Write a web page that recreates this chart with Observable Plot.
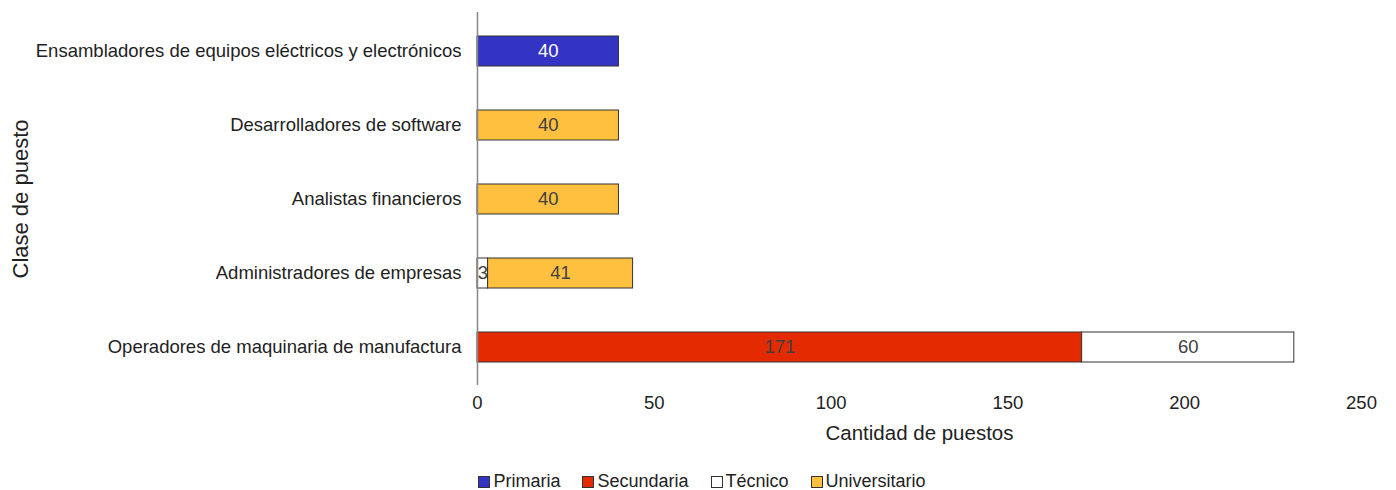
<!DOCTYPE html>
<html>
<head>
<meta charset="utf-8">
<script src="https://cdn.jsdelivr.net/npm/d3@7"></script>
<script src="https://cdn.jsdelivr.net/npm/@observablehq/plot@0.6"></script>
<style>
  html, body { margin: 0; padding: 0; background: #fff; }
  body { width: 1396px; height: 490px; overflow: hidden; font-family: "Liberation Sans", Arial, sans-serif; }
  #legend { display: flex; justify-content: center; align-items: center; gap: 22px; height: 25px; padding-top: 7px; font-size: 18px; color: #222; padding-left: 8px; }
  #legend .item { display: flex; align-items: center; gap: 3px; }
  #legend .sw { width: 10px; height: 10px; border: 1px solid #333; display: inline-block; }
</style>
</head>
<body>
<div id="chart"></div>
<div id="legend"></div>
<script>
const categories = [
  "Ensambladores de equipos eléctricos y electrónicos",
  "Desarrolladores de software",
  "Analistas financieros",
  "Administradores de empresas",
  "Operadores de maquinaria de manufactura"
];
const levels = ["Primaria", "Secundaria", "Técnico", "Universitario"];
const levelColors = ["#3333c4", "#e32a00", "#ffffff", "#ffc040"];
const primaria      = [40, 0, 0, 0, 0];
const secundaria    = [0, 0, 0, 0, 171];
const tecnico       = [0, 0, 0, 3, 60];
const universitario = [0, 40, 40, 41, 0];
const xTicks = [0, 50, 100, 150, 200, 250];
const xTitle = "Cantidad de puestos";
const yTitle = "Clase de puesto";

const seriesValues = [primaria, secundaria, tecnico, universitario];
const data = [];
categories.forEach((c, i) => {
  levels.forEach((l, j) => {
    const v = seriesValues[j][i];
    if (v > 0) data.push({cat: c, level: l, value: v});
  });
});

const stackOpts = {x: "value", y: "cat", z: "level", order: levels};

const chart = Plot.plot({
  width: 1396,
  height: 462,
  marginLeft: 477,
  marginRight: 35,
  marginTop: 12,
  marginBottom: 77,
  style: {fontFamily: "'Liberation Sans', Arial, sans-serif", fontSize: "18.5px", color: "#222", background: "#fff"},
  x: {domain: [0, 250], ticks: xTicks, tickSize: 0, tickPadding: 10, label: null},
  y: {domain: categories, paddingInner: 0.596, paddingOuter: 0.31, tickSize: 0, tickPadding: 16, label: null},
  color: {domain: levels, range: levelColors},
  marks: [
    Plot.barX(data, Plot.stackX({...stackOpts, fill: "level", stroke: "#333", strokeWidth: 1})),
    Plot.text(data, Plot.stackX({...stackOpts, text: d => String(d.value), fill: d => d.level === "Primaria" ? "#ffffff" : "#404040", fontSize: 18.5})),
    Plot.ruleX([0], {stroke: "#888", strokeWidth: 1.5}),
    Plot.text([xTitle], {frameAnchor: "bottom", dy: 48, text: d => d, fontSize: 20.5, fill: "#222", lineAnchor: "middle"}),
    Plot.text([yTitle], {frameAnchor: "left", dx: -457, text: d => d, fontSize: 22, fill: "#222", rotate: -90, textAnchor: "middle", lineAnchor: "middle"})
  ]
});
document.getElementById("chart").appendChild(chart);

const legend = document.getElementById("legend");
levels.forEach((l, i) => {
  const item = document.createElement("div");
  item.className = "item";
  const sw = document.createElement("span");
  sw.className = "sw";
  sw.style.background = levelColors[i];
  const t = document.createElement("span");
  t.textContent = l;
  item.appendChild(sw);
  item.appendChild(t);
  legend.appendChild(item);
});
</script>
</body>
</html>
